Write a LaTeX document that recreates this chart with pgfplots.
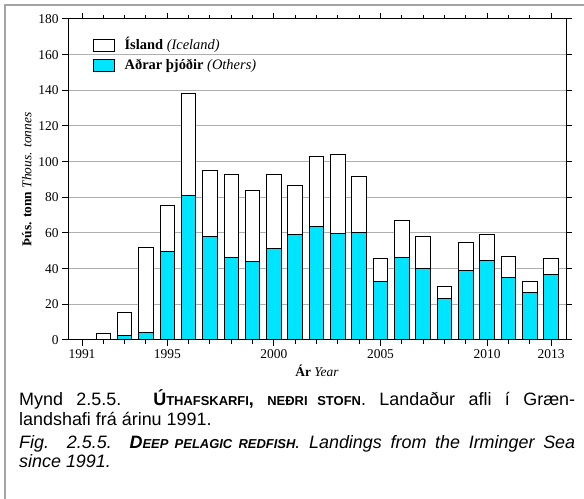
\documentclass[border=0pt]{standalone}
\usepackage{pgfplots}
\usepackage{pgfplotstable}
\pgfplotsset{compat=1.18}
\usepackage{fontspec}
\setmainfont{Liberation Serif}
\newfontfamily\capfont{Liberation Sans}
\definecolor{barcyan}{RGB}{0,229,255}
\definecolor{framegray}{RGB}{165,165,165}
\definecolor{gridgray}{RGB}{175,175,175}
\newcommand\smcap[1]{{\fontsize{13}{14}\selectfont #1}}

% landings, thousand tonnes
\pgfplotstableread{
year others iceland
1991 0    0
1992 0    3.5
1993 2.5  12.7
1994 4.3  47.3
1995 49.7 25.8
1996 81.0 57.2
1997 58.0 36.8
1998 46.2 46.5
1999 43.8 40.2
2000 51.4 41.5
2001 59.0 27.8
2002 63.5 39.4
2003 59.6 44.4
2004 60.5 31.3
2005 32.6 12.9
2006 46.2 20.9
2007 40.2 18.1
2008 23.3 6.5
2009 38.9 15.5
2010 44.3 14.8
2011 35.2 11.9
2012 26.8 6.0
2013 36.7 8.8
}\landings

\begin{document}
\begin{tikzpicture}
\path[use as bounding box] (0bp,0bp) rectangle (584bp,499bp);
\draw[framegray, line width=1.5bp] (5bp,0bp) -- (5bp,494bp) -- (584bp,494bp);
\begin{axis}[
  at={(68bp,159bp)}, anchor=south west,
  scale only axis, width=498bp, height=321bp,
  xmin=1990.343, xmax=2013.70, ymin=0, ymax=180,
  ybar stacked, bar width=0.68,
  xtick={1991,1995,2000,2005,2010,2013},
  minor xtick={1992,...,2012},
  ytick={0,20,...,180},
  ymajorgrids, grid style={gridgray, line width=1bp},
  tick align=outside, major tick length=6bp, minor tick length=4bp,
  every tick/.style={black, line width=1bp},
  minor tick style={black, line width=1bp},
  xticklabel style={/pgf/number format/1000 sep={}},
  /pgf/number format/assume math mode=true,
  ticklabel style={font=\fontsize{13.5}{15}\selectfont},
  axis line style={line width=1bp},
  xlabel={\textbf{Ár} \textit{Year}},
  ylabel={\textbf{Þús. tonn} \textit{Thous. tonnes}},
  label style={font=\fontsize{13.5}{15}\selectfont},
  legend image code/.code={\draw[#1, line width=1bp] (0bp,-6bp) rectangle (21bp,6bp);},
  legend style={at={(0.049,0.94)}, anchor=north west, draw=none, fill=none,
    inner sep=0pt, row sep=5bp, column sep=9bp,
    font=\fontsize{14.5}{16}\selectfont,
    nodes={inner sep=1bp, text height=10bp, text depth=3bp}},
  legend cell align=left,
  reverse legend,
]
\addplot+[fill=barcyan, draw=black, line width=1bp] table[x=year, y=others] {\landings};
\addlegendentry{\textbf{Aðrar þjóðir} \textit{(Others)}}
\addplot+[fill=white, draw=black, line width=1bp] table[x=year, y=iceland] {\landings};
\addlegendentry{\textbf{Ísland} \textit{(Iceland)}}
\draw[line width=2bp] (rel axis cs:0,1) -- (rel axis cs:0,0) -- (rel axis cs:1,0);
\end{axis}
\node[anchor=base west, inner sep=0pt] at (19bp,93.3bp) {\parbox[t]{556bp}{\capfont\fontsize{18}{19.5}\selectfont
Mynd 2.5.5. \textbf{Ú\smcap{THAFSKARFI}, \smcap{NEÐRI STOFN}}. Landaður afli í Græn-\linebreak landshafi frá árinu 1991.}};
\node[anchor=base west, inner sep=0pt] at (19bp,50.7bp) {\parbox[t]{556bp}{\capfont\fontsize{18}{19.5}\selectfont\itshape
Fig. 2.5.5. \textbf{D\smcap{EEP PELAGIC REDFISH}}. Landings from the Irminger Sea\linebreak since 1991.}};
\end{tikzpicture}
\end{document}
